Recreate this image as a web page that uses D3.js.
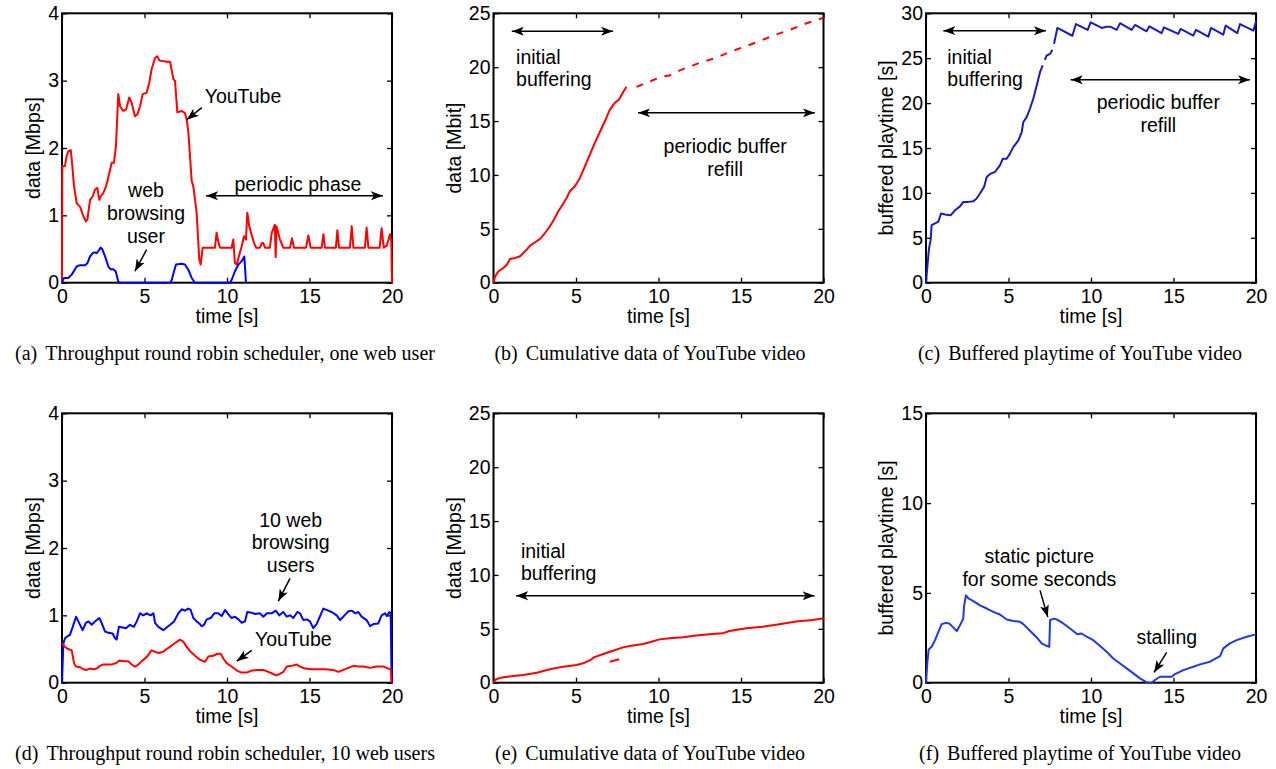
<!DOCTYPE html>
<html>
<head>
<meta charset="utf-8">
<script src="https://cdn.jsdelivr.net/npm/d3@7"></script>
<style>
  body { margin: 0; background: #fff; }
  svg { display: block; }
  .sans { font-family: "Liberation Sans", Arial, Helvetica, sans-serif; font-size: 19.5px; fill: #000; }
  .caption { font-family: "Liberation Serif", "Times New Roman", serif; font-size: 20px; fill: #000; }
</style>
</head>
<body>
<svg id="fig" width="1276" height="769"></svg>
<script>
const width = 1276;
const height = 769;

// tick values
const ticksX = [0, 5, 10, 15, 20];
const ticksThroughput = [0, 1, 2, 3, 4];
const ticksCumulative = [0, 5, 10, 15, 20, 25];
const ticksBufferHigh = [0, 5, 10, 15, 20, 25, 30];
const ticksBufferLow = [0, 5, 10, 15];

// (a) throughput, one web user  [time s, Mbps]
const ytA = [[0,0],[0.02,1.73],[0.18,1.73],[0.28,1.88],[0.38,1.95],[0.53,1.97],[0.59,1.83],[0.73,1.43],[0.89,1.18],[1.09,1.13],[1.29,0.99],[1.45,0.91],[1.54,0.94],[1.7,1.23],[1.86,1.28],[2.0,1.38],[2.14,1.41],[2.26,1.23],[2.34,1.28],[2.5,1.33],[2.67,1.43],[2.87,1.63],[3.01,1.78],[3.15,1.78],[3.27,2.03],[3.41,2.8],[3.52,2.62],[3.72,2.55],[3.88,2.57],[4.08,2.75],[4.22,2.67],[4.42,2.47],[4.57,2.5],[4.73,2.62],[4.89,2.8],[5.13,2.82],[5.29,2.97],[5.43,3.17],[5.64,3.34],[5.78,3.36],[5.9,3.3],[6.14,3.29],[6.34,3.28],[6.55,3.28],[6.75,3.02],[6.85,3.0],[6.99,2.53],[7.25,2.55],[7.45,2.52],[7.56,2.42],[7.66,2.23],[7.86,1.51],[7.96,1.43],[8.16,1.04],[8.32,0.34],[8.4,0.27],[8.53,0.52],[9.27,0.52],[9.37,0.74],[9.47,0.61],[9.58,0.52],[10.28,0.52],[10.38,0.64],[10.48,0.29],[10.59,0.27],[10.75,0.42],[10.89,0.54],[11.03,0.69],[11.15,0.64],[11.23,1.04],[11.35,0.84],[11.49,0.71],[11.64,0.59],[11.76,0.52],[12.0,0.52],[12.12,0.59],[12.2,0.59],[12.3,0.52],[12.6,0.52],[12.71,0.74],[12.9,0.86],[12.95,0.38],[13.0,0.84],[13.21,0.64],[13.41,0.52],[13.82,0.52],[13.94,0.66],[14.06,0.52],[14.79,0.52],[14.93,0.7],[15.07,0.52],[15.74,0.52],[15.84,0.72],[15.94,0.52],[16.6,0.52],[16.69,0.78],[16.79,0.52],[17.45,0.52],[17.56,0.84],[17.66,0.52],[18.36,0.52],[18.46,0.82],[18.57,0.52],[19.25,0.52],[19.37,0.81],[19.5,0.52],[19.68,0.55],[19.88,0.72],[19.96,0.6],[20,0]];
const webA = [[0,0],[0.12,0.07],[0.38,0.07],[0.59,0.12],[0.89,0.24],[1.09,0.26],[1.39,0.26],[1.54,0.29],[1.7,0.39],[1.86,0.44],[1.96,0.45],[2.1,0.44],[2.2,0.47],[2.34,0.52],[2.44,0.5],[2.61,0.39],[2.81,0.24],[2.95,0.2],[3.11,0.2],[3.25,0.17],[3.41,0.02],[3.47,0],[6.55,0],[6.65,0.04],[6.79,0.17],[6.91,0.27],[7.25,0.28],[7.45,0.27],[7.66,0.19],[7.86,0.07],[8.06,0],[10.18,0],[10.28,0.04],[10.48,0.17],[10.69,0.27],[10.89,0.32],[11.05,0.39],[11.15,0]];

// (b) cumulative data [time s, Mbit]
const cumB = [[0,0],[0.1,0.59],[0.3,1.05],[0.6,1.36],[0.81,1.67],[1.0,2.2],[1.31,2.29],[1.61,2.45],[1.81,2.76],[2.01,3.07],[2.22,3.44],[2.52,3.75],[2.82,4.06],[3.12,4.61],[3.42,5.23],[3.66,5.85],[3.93,6.63],[4.23,7.34],[4.43,7.86],[4.63,8.48],[4.93,8.95],[5.24,9.72],[5.54,10.8],[5.84,11.89],[6.14,12.97],[6.44,13.96],[6.75,14.98],[7.05,16.07],[7.35,16.69],[7.61,17.0],[7.85,17.68],[8.06,18.17]];
const cumBRefill = [[8.66,18.17],[9.35,18.6],[10.15,19.1],[10.67,19.23],[11.18,19.63],[11.68,19.94],[12.49,20.4],[13.49,20.87],[14.3,21.4],[15.3,21.95],[16.1,22.4],[17.12,23.03],[18.02,23.5],[18.93,24.05],[20,24.58]];

// (c) buffered playtime [time s, s]; null = gap in the trace
const bufC = [[0,0],[0.1,2.15],[0.18,3.8],[0.28,4.74],[0.34,6.4],[0.55,6.6],[0.75,6.8],[0.91,7.7],[1.15,7.6],[1.49,7.5],[1.76,8.07],[2.06,8.5],[2.26,9.0],[2.57,9.0],[2.87,9.07],[3.07,9.37],[3.27,9.93],[3.52,10.67],[3.68,11.78],[3.92,12.15],[4.18,12.33],[4.48,13.07],[4.65,13.8],[4.89,13.8],[5.09,14.37],[5.29,15.1],[5.6,15.85],[5.8,16.78],[5.9,17.9],[6.1,18.44],[6.3,19.37],[6.5,20.48],[6.71,21.96],[6.91,23.44],[7.07,24.19],null,[7.2,24.8],[7.31,25.3],[7.52,25.48],[7.66,25.95],null,[7.76,26.6],[7.96,28.37],[8.87,27.5],[9.09,28.8],[9.8,28.15],[9.98,29.0],[10.65,28.37],[10.95,28.5],[11.19,28.5],[11.56,28.15],[11.76,28.9],[12.46,28.15],[12.67,28.7],[13.37,28.0],[13.54,28.55],[14.28,27.78],[14.42,28.44],[15.29,27.7],[15.43,28.26],[16.2,27.52],[16.36,28.15],[17.11,27.4],[17.27,28.37],[18.02,27.63],[18.16,28.63],[18.87,27.8],[19.03,28.8],[19.84,28.07],[20,29.1]];

// (d) throughput, 10 web users [time s, Mbps]
const webD = [[0,0],[0.08,0.58],[0.18,0.66],[0.28,0.68],[0.48,0.71],[0.65,0.83],[0.85,0.98],[0.99,0.91],[1.25,0.78],[1.45,0.89],[1.6,0.91],[1.8,0.86],[2.0,0.91],[2.26,0.96],[2.4,0.89],[2.61,0.76],[2.81,0.74],[3.07,0.73],[3.21,0.66],[3.31,0.64],[3.45,0.83],[3.68,0.82],[3.88,0.81],[4.12,0.86],[4.36,0.83],[4.53,0.91],[4.73,1.03],[4.93,1.0],[5.13,1.03],[5.37,1.0],[5.54,1.03],[5.64,0.89],[5.84,0.83],[6.14,0.78],[6.34,0.82],[6.55,0.86],[6.79,0.91],[7.05,1.03],[7.25,1.09],[7.45,1.07],[7.66,1.1],[7.8,1.08],[7.96,0.96],[8.16,0.91],[8.32,0.88],[8.46,0.84],[8.61,0.86],[8.77,0.94],[9.01,0.96],[9.23,1.03],[9.47,1.03],[9.68,0.99],[9.88,1.08],[10.04,1.03],[10.28,0.96],[10.48,0.98],[10.69,0.94],[10.89,0.89],[11.09,0.91],[11.23,1.05],[11.49,1.04],[11.7,1.02],[12.0,1.03],[12.2,0.98],[12.42,1.03],[12.71,1.03],[12.95,1.07],[13.17,1.0],[13.41,1.05],[13.62,0.98],[13.82,1.0],[14.02,0.96],[14.26,1.05],[14.42,1.03],[14.63,0.93],[14.83,0.94],[15.03,0.91],[15.23,0.81],[15.43,0.87],[15.64,0.99],[15.84,1.1],[16.14,1.07],[16.34,1.05],[16.65,1.0],[16.85,0.93],[17.05,0.98],[17.35,1.06],[17.56,1.07],[17.76,1.03],[17.96,1.05],[18.16,0.98],[18.46,0.93],[18.67,0.84],[18.87,0.87],[19.17,0.88],[19.37,1.0],[19.58,1.03],[19.68,0.99],[19.84,1.05],[19.92,1.03],[19.98,0]];
const ytD = [[0,0.59],[0.18,0.53],[0.38,0.5],[0.59,0.48],[0.73,0.29],[0.85,0.24],[1.09,0.23],[1.29,0.2],[1.49,0.19],[1.7,0.21],[1.9,0.2],[2.1,0.21],[2.3,0.25],[2.5,0.27],[2.71,0.27],[3.01,0.27],[3.27,0.29],[3.47,0.33],[3.76,0.32],[4.02,0.32],[4.22,0.27],[4.42,0.24],[4.63,0.27],[4.83,0.32],[5.13,0.38],[5.43,0.48],[5.64,0.46],[5.84,0.44],[6.14,0.46],[6.34,0.5],[6.59,0.54],[6.85,0.59],[7.15,0.64],[7.35,0.61],[7.56,0.53],[7.8,0.46],[8.06,0.4],[8.36,0.34],[8.67,0.31],[8.87,0.39],[9.17,0.4],[9.41,0.43],[9.62,0.43],[9.78,0.36],[9.98,0.29],[10.28,0.24],[10.59,0.18],[10.89,0.15],[11.19,0.15],[11.49,0.18],[11.9,0.19],[12.2,0.19],[12.5,0.16],[12.71,0.14],[12.97,0.11],[13.21,0.13],[13.41,0.16],[13.62,0.24],[13.92,0.25],[14.22,0.27],[14.42,0.24],[14.73,0.21],[15.13,0.2],[15.54,0.2],[15.94,0.2],[16.44,0.19],[16.75,0.16],[17.05,0.19],[17.35,0.22],[17.66,0.25],[17.96,0.24],[18.26,0.24],[18.67,0.22],[19.07,0.24],[19.47,0.24],[19.78,0.21],[19.92,0.2],[19.98,0]];

// (e) cumulative data, 10 web users [time s, Mbit]
const cumE = [[0,0],[0.1,0.25],[0.3,0.4],[0.6,0.5],[1.21,0.62],[1.81,0.71],[2.62,0.93],[3.42,1.24],[4.23,1.49],[5.04,1.64],[5.44,1.8],[5.94,2.17],[6.08,2.35],[6.65,2.66],[7.25,2.97],[7.85,3.28],[8.26,3.41],[9.06,3.59],[9.47,3.75],[10.07,4.02],[10.67,4.12],[11.48,4.21],[12.29,4.37],[13.09,4.49],[13.88,4.58],[14.3,4.8],[15.31,5.05],[16.31,5.2],[17.32,5.42],[18.33,5.67],[19.34,5.82],[20,5.98]];
const cumEStray = [[7.05,1.95],[7.61,2.17]];

// (f) buffered playtime, 10 web users [time s, s]
const bufF = [[0,0],[0.08,1.07],[0.16,1.85],[0.34,2.0],[0.55,2.37],[0.75,2.83],[0.95,3.26],[1.21,3.33],[1.41,3.3],[1.62,3.11],[1.86,2.87],[2.06,3.2],[2.26,3.57],[2.3,4.22],[2.42,4.87],[2.57,4.69],[2.87,4.54],[3.27,4.31],[3.68,4.13],[4.08,3.94],[4.48,3.8],[4.89,3.52],[5.29,3.44],[5.7,3.39],[5.9,3.26],[6.3,2.89],[6.71,2.52],[7.01,2.19],[7.27,2.07],[7.47,2.0],[7.52,3.48],[7.76,3.57],[7.92,3.52],[8.32,3.3],[8.73,3.02],[9.17,2.7],[9.43,2.74],[9.74,2.56],[10.14,2.37],[10.55,2.04],[10.95,1.72],[11.35,1.35],[11.76,1.07],[12.16,0.8],[12.57,0.52],[12.97,0.24],[13.37,0.02],[13.55,0],[13.7,0.02],[13.88,0.15],[14.18,0.33],[14.89,0.33],[15.09,0.48],[15.6,0.7],[16.2,0.89],[16.61,1.02],[17.21,1.17],[17.82,1.48],[18.02,1.91],[18.42,2.19],[18.83,2.37],[19.43,2.56],[20,2.69]];

const RED = "#ff0000";
const BLUE = "#0000ff";

const plotW = 330;
const plotH = 269.4;
const lineGap = 22.7;

const panels = [
  { left: 62, top: 13.3, ymax: 4, yTicks: ticksThroughput, yLabel: "data [Mbps]",
    tag: "(a)", caption: "Throughput round robin scheduler, one web user", capX: 225,
    series: [{ data: ytA, color: RED }, { data: webA, color: BLUE }],
    notes: [
      { t: 10.97, v: 2.77, lines: ["YouTube"], anchor: "middle" },
      { t: 14.3, v: 1.46, lines: ["periodic phase"], anchor: "middle" },
      { t: 5.09, v: 1.37, lines: ["web", "browsing", "user"], anchor: "middle" }
    ],
    arrows: [
      { from: [8.47, 2.6], to: [7.56, 2.42] },
      { from: [8.73, 1.29], to: [19.45, 1.29], both: true },
      { from: [5.13, 0.49], to: [4.42, 0.17] }
    ] },
  { left: 493.5, top: 13.3, ymax: 25, yTicks: ticksCumulative, yLabel: "data [Mbit]",
    tag: "(b)", caption: "Cumulative data of YouTube video", capX: 650,
    series: [{ data: cumB, color: RED }, { data: cumBRefill, color: RED, dash: "7,8" }],
    notes: [
      { t: 1.37, v: 20.96, lines: ["initial", "buffering"], anchor: "start" },
      { t: 14.04, v: 12.66, lines: ["periodic buffer", "refill"], anchor: "middle" }
    ],
    arrows: [
      { from: [1.11, 23.33], to: [7.25, 23.33], both: true },
      { from: [8.76, 15.76], to: [19.48, 15.76], both: true }
    ] },
  { left: 926, top: 13.3, ymax: 30, yTicks: ticksBufferHigh, yLabel: "buffered playtime [s]",
    tag: "(c)", caption: "Buffered playtime of YouTube video", capX: 1080,
    series: [{ data: bufC, color: "#1a1ac4" }],
    notes: [
      { t: 1.29, v: 25.14, lines: ["initial", "buffering"], anchor: "start" },
      { t: 14.08, v: 20.08, lines: ["periodic buffer", "refill"], anchor: "middle" }
    ],
    arrows: [
      { from: [1.05, 28.06], to: [7.27, 28.06], both: true },
      { from: [8.77, 22.6], to: [19.64, 22.6], both: true }
    ] },
  { left: 62, top: 413.3, ymax: 4, yTicks: ticksThroughput, yLabel: "data [Mbps]",
    tag: "(d)", caption: "Throughput round robin scheduler, 10 web users", capX: 225,
    series: [{ data: webD, color: BLUE }, { data: ytD, color: RED }],
    notes: [
      { t: 13.86, v: 2.42, lines: ["10 web", "browsing", "users"], anchor: "middle" },
      { t: 14.02, v: 0.65, lines: ["YouTube"], anchor: "middle" }
    ],
    arrows: [
      { from: [13.82, 1.55], to: [13.11, 1.21] },
      { from: [11.5, 0.48], to: [10.59, 0.32] }
    ] },
  { left: 493.5, top: 413.3, ymax: 25, yTicks: ticksCumulative, yLabel: "data [Mbps]",
    tag: "(e)", caption: "Cumulative data of YouTube video", capX: 650,
    series: [{ data: cumE, color: RED }, { data: cumEStray, color: RED }],
    notes: [
      { t: 1.66, v: 12.25, lines: ["initial", "buffering"], anchor: "start" }
    ],
    arrows: [
      { from: [1.37, 8.07], to: [19.46, 8.07], both: true }
    ] },
  { left: 926, top: 413.3, ymax: 15, yTicks: ticksBufferLow, yLabel: "buffered playtime [s]",
    tag: "(f)", caption: "Buffered playtime of YouTube video", capX: 1080,
    series: [{ data: bufF, color: "#2238e0" }],
    notes: [
      { t: 6.87, v: 7.03, lines: ["static picture", "for some seconds"], anchor: "middle" },
      { t: 14.59, v: 2.52, lines: ["stalling"], anchor: "middle" }
    ],
    arrows: [
      { from: [6.91, 5.14], to: [7.38, 3.66] },
      { from: [14.59, 1.69], to: [13.82, 0.57] }
    ] }
];

const svg = d3.select("#fig");

// arrow head, used on both ends for the double arrows
svg.append("defs").append("marker")
    .attr("id", "head")
    .attr("viewBox", "0 -5 12 10")
    .attr("refX", 12)
    .attr("refY", 0)
    .attr("markerUnits", "userSpaceOnUse")
    .attr("markerWidth", 12)
    .attr("markerHeight", 10)
    .attr("orient", "auto-start-reverse")
  .append("path")
    .attr("d", "M0,-4.5L12,0L0,4.5L3,0Z")
    .attr("fill", "#000");

panels.forEach(p => {
    const x = d3.scaleLinear().domain([0, 20]).range([p.left, p.left + plotW]);
    const y = d3.scaleLinear().domain([0, p.ymax]).range([p.top + plotH, p.top]);
    const g = svg.append("g");

    // frame
    g.append("rect")
        .attr("x", p.left).attr("y", p.top)
        .attr("width", plotW).attr("height", plotH)
        .attr("fill", "none").attr("stroke", "#000").attr("stroke-width", 2);

    // inward ticks on all four sides
    const bottom = g.append("g").attr("transform", `translate(0,${p.top + plotH})`)
        .call(d3.axisBottom(x).tickValues(ticksX).tickSize(-5).tickPadding(6).tickFormat(d3.format("d")));
    const top = g.append("g").attr("transform", `translate(0,${p.top})`)
        .call(d3.axisTop(x).tickValues(ticksX).tickSize(-5).tickFormat(""));
    const left = g.append("g").attr("transform", `translate(${p.left},0)`)
        .call(d3.axisLeft(y).tickValues(p.yTicks).tickSize(-5).tickPadding(3).tickFormat(d3.format("d")));
    const right = g.append("g").attr("transform", `translate(${p.left + plotW},0)`)
        .call(d3.axisRight(y).tickValues(p.yTicks).tickSize(-5).tickFormat(""));

    [bottom, top, left, right].forEach(a => {
        a.select(".domain").remove();
        a.selectAll("line").attr("stroke", "#000").attr("stroke-width", 1.3);
        a.selectAll("text").attr("class", "sans").attr("font-size", null).attr("font-family", null).attr("fill", null);
        a.attr("font-size", null).attr("font-family", null);
    });

    let maxW = 0;
    left.selectAll("text").each(function () { maxW = Math.max(maxW, this.getComputedTextLength()); });

    // axis labels
    g.append("text").attr("class", "sans")
        .attr("x", p.left + plotW / 2).attr("y", p.top + plotH + 40.6)
        .attr("text-anchor", "middle")
        .text("time [s]");
    const yl = p.left - 3 - maxW - 8;
    g.append("text").attr("class", "sans")
        .attr("transform", `translate(${yl},${p.top + plotH / 2}) rotate(-90)`)
        .attr("text-anchor", "middle")
        .text(p.yLabel);

    // data lines
    const line = d3.line()
        .defined(d => d !== null)
        .x(d => x(d[0]))
        .y(d => y(d[1]));

    p.series.forEach(s => {
        g.append("path")
            .datum(s.data)
            .attr("d", line)
            .attr("fill", "none")
            .attr("stroke", s.color)
            .attr("stroke-width", 2)
            .attr("stroke-linejoin", "round")
            .attr("stroke-dasharray", s.dash || null);
    });

    // annotations
    p.notes.forEach(n => {
        const t = g.append("text").attr("class", "sans")
            .attr("text-anchor", n.anchor);
        n.lines.forEach((s, i) => {
            t.append("tspan")
                .attr("x", x(n.t))
                .attr("y", y(n.v) + i * lineGap)
                .attr("dy", "0.35em")
                .text(s);
        });
    });

    p.arrows.forEach(a => {
        g.append("line")
            .attr("x1", x(a.from[0])).attr("y1", y(a.from[1]))
            .attr("x2", x(a.to[0])).attr("y2", y(a.to[1]))
            .attr("stroke", "#000").attr("stroke-width", 1.5)
            .attr("marker-end", "url(#head)")
            .attr("marker-start", a.both ? "url(#head)" : null);
    });

    // caption
    const cap = svg.append("text").attr("class", "caption")
        .attr("x", p.capX)
        .attr("y", p.top + plotH + 77.5)
        .attr("text-anchor", "middle");
    cap.append("tspan").text(p.tag);
    cap.append("tspan").attr("dx", 8).text(p.caption);
});
</script>
</body>
</html>
